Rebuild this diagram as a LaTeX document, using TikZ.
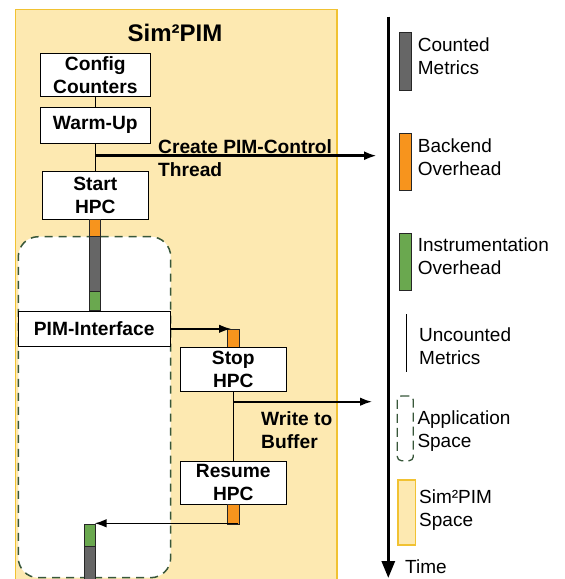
\documentclass[tikz,border=0pt]{standalone}
\usepackage{fontspec}
\setmainfont{Liberation Sans}
\usetikzlibrary{arrows.meta}
\definecolor{bgyel}{HTML}{FDE9B1}
\definecolor{bgbord}{HTML}{F1C232}
\definecolor{bargray}{HTML}{666666}
\definecolor{barorng}{HTML}{F7941D}
\definecolor{bargrn}{HTML}{6AA84F}
\definecolor{appgrn}{HTML}{38573A}
\begin{document}
\begin{tikzpicture}[x=1pt,y=-1pt,
  box/.style={draw=black, line width=0.9pt, fill=white, inner sep=0pt, align=center,
    font=\bfseries\fontsize{19.2}{22.5}\selectfont},
  barnode/.style={draw=black!85, fill=#1, line width=0.8pt, inner sep=0pt, minimum width=11.4pt},
  lbl/.style={inner sep=0pt, align=left, anchor=west, font=\fontsize{19}{23}\selectfont},
  blbl/.style={inner sep=0pt, align=left, anchor=west, font=\bfseries\fontsize{19.2}{22.5}\selectfont},
  arr/.style={line width=1.6pt, -{Latex[length=12pt,width=8.5pt]}},
  conn/.style={line width=1pt}]
\useasboundingbox (0,0) rectangle (565,579);
% Sim2PIM space
\fill[bgyel] (15.7,9.5) rectangle (337,590);
\draw[bgbord, line width=1.3pt] (15.7,590) -- (15.7,9.5) -- (337,9.5) -- (337,590);
\node[inner sep=0pt, font=\bfseries\fontsize{24}{28}\selectfont] (title) at (175,33) {Sim²PIM};
% application space
\node[draw=appgrn, fill=white, line width=1.5pt, dash pattern=on 8pt off 6pt,
  rounded corners=20pt, minimum width=152.4pt, minimum height=341pt, inner sep=0pt] (app) at (94.5,407.2) {};
% boxes
\node[box, minimum width=110.7pt, minimum height=43.4pt] (cfg) at (95.3,75) {Config\\Counters};
\node[box, minimum width=110.7pt, minimum height=36pt] (warm) at (95.3,125.3) {Warm-Up};
\node[box, minimum width=106pt, minimum height=47.6pt] (start) at (95.3,195.5) {Start\\HPC};
% bars
\node[barnode=barorng, minimum height=17.4pt] (o1) at (95,228) {};
\node[barnode=bargray, minimum height=54.3pt] (g1) at (95,263.85) {};
\node[barnode=bargrn, minimum height=19.7pt] (n1) at (95,300.85) {};
\node[box, minimum width=151.7pt, minimum height=35.7pt] (pim) at (94.2,328.8) {PIM-Interface};
\node[barnode=barorng, minimum height=18.4pt] (o2) at (233.35,338.5) {};
\node[box, minimum width=105.3pt, minimum height=43.3pt] (stop) at (233.3,369.3) {Stop\\HPC};
\node[box, minimum width=105.3pt, minimum height=43.3pt] (resume) at (233.3,482.7) {Resume\\HPC};
\node[barnode=barorng, minimum height=19.7pt] (o3) at (233.35,514.15) {};
\node[barnode=bargrn, minimum height=22.7pt] (n2) at (90.15,535.35) {};
\node[barnode=bargray, minimum height=40pt] (g2) at (90.15,566.7) {};
% connectors
\draw[conn] (cfg.south) -- (warm.north);
\draw[conn] (warm.south) -- (start.north);
\coordinate (ctl) at (95.3,155.7);
\coordinate (ctlend) at (377,155.7);
\draw[line width=2.8pt, -{Latex[length=13pt,width=9pt]}] (ctl) -- (ctlend);
\node[blbl] (ctltxt) at (158,158) {Create PIM-Control\\Thread};
\coordinate (pimend) at (231,328.8);
\draw[arr] (pim.east) -- (pimend);
\draw[conn, line width=1.4pt] (stop.south) -- (resume.north);
\coordinate (wb) at (233.3,401.7);
\coordinate (wbend) at (372,401.7);
\draw[arr] (wb) -- (wbend);
\node[blbl] (wbtxt) at (261,430) {Write to\\Buffer};
\coordinate (ret) at (238,523.3);
\coordinate (retend) at (94.5,523.3);
\draw[arr] (ret) -- (retend);
% timeline
\coordinate (tltop) at (388.3,16.7);
\coordinate (tlbot) at (388.3,578);
\draw[line width=3pt, -{Triangle[length=17pt,width=13pt]}] (tltop) -- (tlbot);
\node[lbl] (time) at (405,566.7) {Time};
% legend
\node[barnode=bargray, minimum height=57.7pt] (lg1) at (405.5,61.2) {};
\node[lbl] (lt1) at (417.7,56.7) {Counted\\Metrics};
\node[barnode=barorng, minimum height=56.7pt] (lg2) at (405.5,161.7) {};
\node[lbl] (lt2) at (417.7,157) {Backend\\Overhead};
\node[barnode=bargrn, minimum height=56.7pt] (lg3) at (405.5,261.7) {};
\node[lbl] (lt3) at (417.7,256.7) {Instrumentation\\Overhead};
\coordinate (u1) at (406.7,314.3);
\coordinate (u2) at (406.7,371.7);
\draw[line width=1.2pt] (u1) -- (u2);
\node[lbl] (lt4) at (419,345.8) {Uncounted\\Metrics};
\node[draw=appgrn, line width=1.3pt, dash pattern=on 9pt off 5pt, rounded corners=4pt,
  minimum width=16pt, minimum height=64.7pt, inner sep=0pt] (lg5) at (405.3,428.3) {};
\node[lbl] (lt5) at (417.3,431) {Application\\Space};
\node[draw=bgbord, fill=bgyel, line width=1.3pt, minimum width=17.3pt, minimum height=65pt, inner sep=0pt] (lg6) at (406.6,512.5) {};
\node[lbl] (lt6) at (419,510.5) {Sim²PIM\\Space};
\end{tikzpicture}
\end{document}
